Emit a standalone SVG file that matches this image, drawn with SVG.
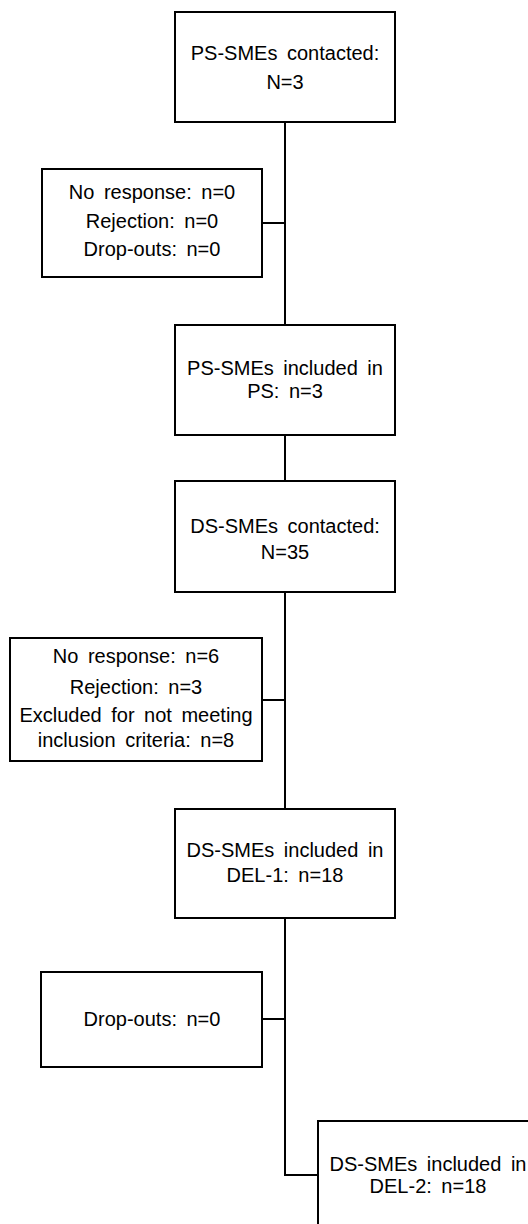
<svg xmlns="http://www.w3.org/2000/svg" width="528" height="1224" viewBox="0 0 528 1224">
  <style>
    .box { fill: #ffffff; stroke: #000000; stroke-width: 2; }
    .link { fill: none; stroke: #000000; stroke-width: 2; }
    text { font-family: "Liberation Sans", Arial, sans-serif; font-size: 20px; fill: #000000; text-anchor: middle; word-spacing: 4px; }
  </style>
  <rect width="528" height="1224" fill="#ffffff"/>

  <!-- connectors -->
  <g id="connectors">
    <path class="link" d="M285 122 V325"/>
    <path class="link" d="M262 223 H285"/>
    <path class="link" d="M285 435 V481"/>
    <path class="link" d="M285 592 V809"/>
    <path class="link" d="M262 700 H285"/>
    <path class="link" d="M285 918 V1175 H318"/>
    <path class="link" d="M262 1019 H285"/>
  </g>

  <g id="ps-contacted">
    <rect class="box" x="175" y="12" width="220" height="110"/>
    <text x="285" y="60">PS-SMEs contacted:</text>
    <text x="285" y="89">N=3</text>
  </g>

  <g id="ps-excluded">
    <rect class="box" x="42" y="169" width="220" height="108"/>
    <text x="152" y="199">No response:  n=0</text>
    <text x="152" y="228">Rejection: n=0</text>
    <text x="152" y="256">Drop-outs: n=0</text>
  </g>

  <g id="ps-included">
    <rect class="box" x="175" y="325" width="220" height="110"/>
    <text x="285" y="375">PS-SMEs included in</text>
    <text x="285" y="398">PS: n=3</text>
  </g>

  <g id="ds-contacted">
    <rect class="box" x="175" y="481" width="220" height="111"/>
    <text x="285" y="533">DS-SMEs contacted:</text>
    <text x="285" y="559">N=35</text>
  </g>

  <g id="ds-excluded">
    <rect class="box" x="10" y="638" width="252" height="123"/>
    <text x="136" y="663">No response: n=6</text>
    <text x="136" y="694">Rejection: n=3</text>
    <text x="136" y="722">Excluded for not meeting</text>
    <text x="136" y="747">inclusion criteria: n=8</text>
  </g>

  <g id="del1-included">
    <rect class="box" x="175" y="809" width="220" height="109"/>
    <text x="285" y="857">DS-SMEs included in</text>
    <text x="285" y="882">DEL-1: n=18</text>
  </g>

  <g id="del1-dropouts">
    <rect class="box" x="41" y="972" width="221" height="95"/>
    <text x="152" y="1026">Drop-outs: n=0</text>
  </g>

  <g id="del2-included">
    <rect class="box" x="318" y="1121" width="220" height="110"/>
    <text x="428" y="1171">DS-SMEs included in</text>
    <text x="428" y="1193">DEL-2: n=18</text>
  </g>
</svg>
